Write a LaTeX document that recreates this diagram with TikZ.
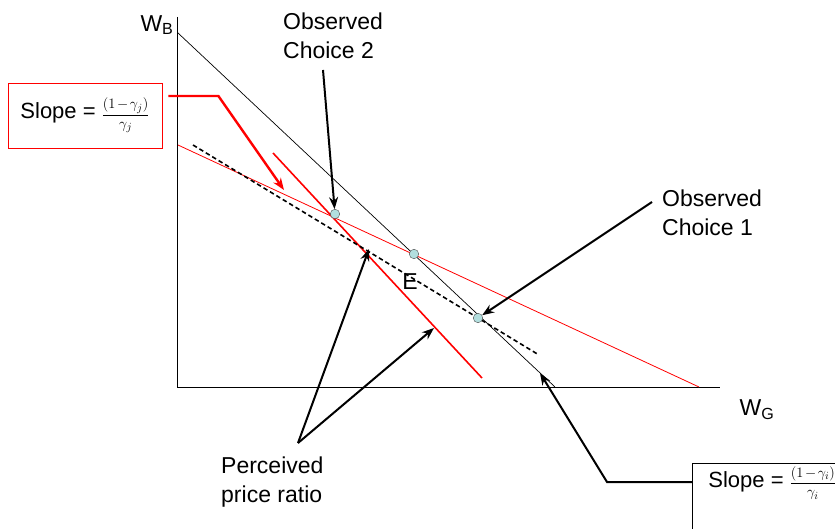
\documentclass[tikz,border=0pt]{standalone}
\usepackage{fontspec}
\setmainfont{Liberation Sans}
\usepackage{amsmath}
\usetikzlibrary{arrows.meta, positioning}
\definecolor{dotfill}{RGB}{178,222,222}
\newcommand{\slopefrac}[1]{{\fontsize{15}{17}\selectfont$\dfrac{\left(1\mkern2mu{-}\mkern2mu\gamma_{#1}\right)}{\gamma_{#1}}$}}

\begin{document}
\begin{tikzpicture}[x=1pt, y=-1pt,
    lbl/.style={font=\fontsize{23}{29}\selectfont, align=left, inner sep=0pt},
    slopebox/.style={draw, line width=0.8pt, font=\fontsize{22}{26}\selectfont, inner ysep=3pt},
    dot/.style={circle, draw=black!70, fill=dotfill, minimum size=9.5pt, inner sep=0pt},
    axis/.style={draw, line width=0.9pt},
    budget/.style={draw, line width=0.7pt},
    arrow/.style={draw, line width=2pt, -{Stealth[length=12pt, width=9pt]}},
    redarrow/.style={arrow, draw=red, line width=2.4pt}
]
    \useasboundingbox (0,0) rectangle (835,529);
    \clip (0,0) rectangle (835,529);

    % Axes
    \coordinate (origin) at (177,387);
    \coordinate (ytop) at (177,17);
    \coordinate (xend) at (720,387);
    \draw[axis] (ytop) -- (origin) -- (xend);
    \node[lbl] (wb) at (157,25) {W\textsubscript{B}};
    \node[lbl] (wg) at (757,410) {W\textsubscript{G}};

    % Budget and price lines
    \draw[budget] (178,33) -- (555,387);
    \draw[red, line width=0.8pt] (178,145) -- (699,387);
    \draw[red, line width=1.6pt] (273,153) -- (482,378);
    \draw[line width=1.6pt, dash pattern=on 4.5pt off 3pt] (193,145) -- (539,355);

    % Choices
    \node[dot] (c2) at (335,214) {};
    \node[dot] (ce) at (414,254) {};
    \node[dot] (c1) at (478,318) {};
    \node[lbl] (elbl) at (410,282) {E};

    % Labels
    \node[lbl, anchor=north west] (obs2) at (283,12.5) {Observed\\Choice 2};
    \node[lbl, anchor=north west] (obs1) at (662,189.5) {Observed\\Choice 1};
    \node[lbl, anchor=north west] (ppr) at (221,456.5) {Perceived\\price ratio};
    \node[slopebox, draw=red, minimum width=154pt, minimum height=65pt] (slopej) at (85,115.5) {Slope = \slopefrac{j}};
    \node[slopebox, anchor=base west, inner xsep=16pt, text depth=60pt] (slopei) at (692,487) {Slope = \slopefrac{i}};

    % Arrows
    \coordinate (obs2tail) at (323,70);
    \coordinate (obs1tail) at (652,202);
    \coordinate (pprtail) at (298,443);
    \coordinate (pprtip1) at (369,249);
    \coordinate (pprtip2) at (434,328);
    \coordinate (redtip) at (284,190);
    \coordinate (blacktip) at (540,373);
    \draw[arrow] (obs2tail) -- (c2);
    \draw[arrow] (obs1tail) -- (c1);
    \draw[arrow] (pprtail) -- (pprtip1);
    \draw[arrow] (pprtail) -- (pprtip2);
    \draw[redarrow] ([xshift=6pt, yshift=19.5pt]slopej.east) -- ++(50,0) -- (redtip);
    \draw[arrow] (slopei.west |- 0,482) -- (607,482) -- (blacktip);
\end{tikzpicture}
\end{document}
